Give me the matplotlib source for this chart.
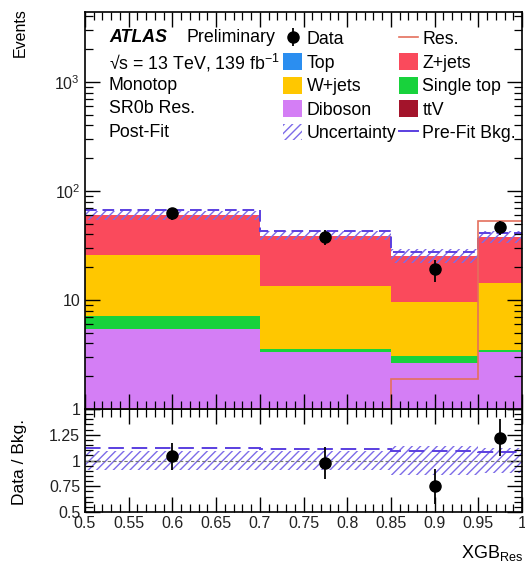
import numpy as np
import matplotlib
matplotlib.use("Agg")
import matplotlib.pyplot as plt
from matplotlib.patches import Patch
from matplotlib.lines import Line2D
from matplotlib.ticker import FixedLocator, MultipleLocator, FuncFormatter, LogLocator, NullFormatter

plt.rcParams['font.family'] = ['Liberation Sans', 'DejaVu Sans']
plt.rcParams['mathtext.fontset'] = 'custom'
plt.rcParams['mathtext.rm'] = 'Liberation Sans'
plt.rcParams['mathtext.it'] = 'Liberation Sans:italic'
plt.rcParams['mathtext.bf'] = 'Liberation Sans:bold'

# ---------------- data ----------------
edges = [0.5, 0.7, 0.85, 0.95, 1.0]
data = [62.4, 38.0, 19.1, 46.4]

# post-fit background components (bottom -> top of stack)
ttv = [0.10, 0.05, 0.05, 0.05]
top = [0.25, 0.15, 0.12, 0.10]
diboson = [5.05, 3.16, 2.49, 3.21]
single_top = [1.70, 0.17, 0.40, 0.12]
wjets = [18.9, 9.87, 6.54, 10.9]
zjets = [34.0, 25.6, 15.9, 23.6]

res_signal = [1.0, 1.0, 1.9, 52.7]
rel_unc = [0.09, 0.09, 0.14, 0.12]        # relative post-fit uncertainty
prefit_ratio = [1.12, 1.11, 1.09, 1.08]   # pre-fit / post-fit background

components = [
    ("ttV", ttv, "#a3142b"),
    ("Top", top, "#2b8ef0"),
    ("Diboson", diboson, "#d47ef5"),
    ("Single top", single_top, "#18d23c"),
    ("W+jets", wjets, "#ffc700"),
    ("Z+jets", zjets, "#fa4a5c"),
]

edges = np.array(edges)
centers = 0.5 * (edges[1:] + edges[:-1])
data = np.array(data)
data_err = np.sqrt(data)

col_unc = "#7d6be8"
col_pre = "#5a3fe0"
col_res = "#e4705c"
fs_txt = 12.8

fig = plt.figure(figsize=(5.25, 5.63), dpi=100)
ax = fig.add_axes([0.1619, 0.2735, 0.8324, 0.7043])
axr = fig.add_axes([0.1619, 0.0906, 0.8324, 0.1829], sharex=ax)

# stacked backgrounds
bottom = np.full(4, 1e-3)
for name, vals, c in components:
    vals = np.array(vals)
    ax.stairs(bottom + vals, edges, baseline=bottom, fill=True, color=c, lw=0)
    bottom = bottom + vals
total = bottom

# uncertainty band
unc = np.array(rel_unc)
ax.stairs(total * (1 + unc), edges, baseline=total * (1 - unc), fill=True,
          facecolor="none", edgecolor=col_unc, hatch="////", lw=0)
# pre-fit background
ax.stairs(total * np.array(prefit_ratio), edges, color=col_pre, lw=1.4,
          ls=(0, (6, 3)), baseline=None)
# resonant signal
ax.stairs(res_signal, edges, color=col_res, lw=1.2, baseline=None)

# data
h_data = ax.errorbar(centers, data, yerr=data_err, fmt="o", color="black",
                     ms=8, lw=1.3, capsize=0)

ax.set_yscale("log")
ax.set_ylim(1, 4340)
ax.set_xlim(0.5, 1.0)
ax.yaxis.set_major_locator(FixedLocator([1, 10, 100, 1000]))
ax.yaxis.set_major_formatter(FuncFormatter(
    lambda v, p: {1: "1", 10: "10", 100: "$10^2$", 1000: "$10^3$"}.get(int(round(v)), "")))
ax.yaxis.set_minor_locator(LogLocator(base=10, subs=np.arange(2, 10)))
ax.yaxis.set_minor_formatter(NullFormatter())
ax.xaxis.set_major_locator(MultipleLocator(0.05))
ax.xaxis.set_minor_locator(MultipleLocator(0.01))
ax.tick_params(axis="x", labelbottom=False)

# ratio panel
axr.stairs(1 + unc, edges, baseline=1 - unc, fill=True, facecolor="none",
           edgecolor=col_unc, hatch="////", lw=0)
axr.stairs(prefit_ratio, edges, color=col_pre, lw=1.4, ls=(0, (8, 4)), baseline=None)
axr.axhline(1, color="#777777", lw=0.8, ls=(0, (3, 2)))
ratio = data / total
axr.errorbar(centers, ratio, yerr=data_err / total, fmt="o", color="black",
             ms=8, lw=1.3, capsize=0)
axr.set_ylim(0.5, 1.5)
axr.yaxis.set_major_locator(FixedLocator([0.5, 0.75, 1.0, 1.25, 1.5]))
axr.yaxis.set_major_formatter(FuncFormatter(
    lambda v, p: {0.5: "0.5", 0.75: "0.75", 1.0: "1", 1.25: "1.25"}.get(round(v, 2), "")))
axr.yaxis.set_minor_locator(MultipleLocator(0.05))
axr.xaxis.set_major_locator(MultipleLocator(0.05))
axr.xaxis.set_minor_locator(MultipleLocator(0.01))
axr.xaxis.set_major_formatter(FuncFormatter(lambda v, p: "%g" % round(v, 2)))

for a in (ax, axr):
    a.tick_params(which="both", direction="in", top=True, right=True,
                  labelsize=11.5, colors="black", labelcolor="#222222")
    a.tick_params(which="major", length=11, width=1)
    a.tick_params(which="minor", length=5.5, width=0.9)
    for s in a.spines.values():
        s.set_linewidth(1.2)
axr.tick_params(axis="x", pad=3)
ax.set_zorder(axr.get_zorder() + 1)

# axis titles
fig.text(0.038, 0.985, "Events", rotation=90, ha="center", va="top", fontsize=11.5)
fig.text(0.038, 1 - 462 / 563, "Data / Bkg.", rotation=90, ha="center",
         va="center", fontsize=12.5)
fig.text(523 / 525, 1 - 558 / 563, r"XGB$_{\mathrm{Res}}$", ha="right",
         va="baseline", fontsize=13)

# labels in the top-left corner
tx = 109 / 525
ax.text(tx, 1 - 38 / 563, "ATLAS", transform=fig.transFigure, fontsize=fs_txt,
        fontweight="bold", fontstyle="italic", va="center")
ax.text(187 / 525, 1 - 38 / 563, "Preliminary", transform=fig.transFigure,
        fontsize=fs_txt, va="center")
info = ["√s = 13 TeV, 139 fb$^{-1}$", "Monotop", "SR0b Res.", "Post-Fit"]
for i, s in enumerate(info):
    ax.text(tx, 1 - (62.5 + 23.2 * i) / 563, s, transform=fig.transFigure,
            fontsize=fs_txt, va="center")

# legend
handles = [
    h_data,
    Patch(facecolor="#2b8ef0"),
    Patch(facecolor="#ffc700"),
    Patch(facecolor="#d47ef5"),
    Patch(facecolor="none", edgecolor=col_unc, hatch="////", lw=0),
    Line2D([], [], color=col_res, lw=1.2),
    Patch(facecolor="#fa4a5c"),
    Patch(facecolor="#18d23c"),
    Patch(facecolor="#a3142b"),
    Line2D([], [], color=col_pre, lw=1.4),
]
labels = ["Data", "Top", "W+jets", "Diboson", "Uncertainty",
          "Res.", "Z+jets", "Single top", "ttV", "Pre-Fit Bkg."]
leg = ax.legend(handles, labels, ncol=2, loc="upper left",
                bbox_to_anchor=(283 / 525, 1 - 30 / 563),
                bbox_transform=fig.transFigure, frameon=False, fontsize=fs_txt,
                handlelength=1.07, handleheight=1.07, handletextpad=0.25,
                labelspacing=0.28, columnspacing=0.15, borderpad=0, borderaxespad=0)

fig.savefig("out.png", dpi=100)
